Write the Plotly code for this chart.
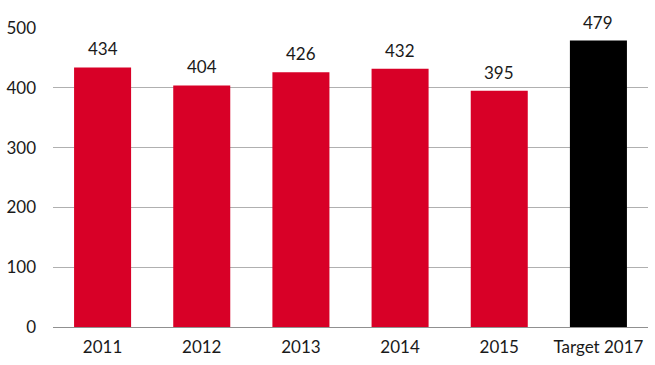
import plotly.graph_objects as go

categories = ["2011", "2012", "2013", "2014", "2015", "Target 2017"]
values = [434, 404, 426, 432, 395, 479]
colors = ["#D80027"] * 5 + ["#000000"]
yticks = [0, 100, 200, 300, 400, 500]

FONT = "Lato, DejaVu Sans, sans-serif"

fig = go.Figure(go.Bar(
    x=categories, y=values, marker=dict(color=colors, line=dict(width=0)),
    width=0.575,
))
for i, v in enumerate(values):
    fig.add_annotation(x=i, y=v, text=str(v), showarrow=False, yanchor="bottom",
                       yshift=6, font=dict(family=FONT, size=17, color="#1a1a1a"))

fig.update_layout(
    width=655, height=365,
    margin=dict(l=53, r=7, t=27.5, b=37.5),
    paper_bgcolor="white", plot_bgcolor="white",
    showlegend=False, bargap=0.425,
    font=dict(family=FONT, size=17, color="#1a1a1a"),
)
fig.update_yaxes(range=[0, 500], tickvals=yticks, showgrid=True, gridcolor="#b0b0b0",
                 gridwidth=1, zeroline=True, zerolinecolor="#909090", zerolinewidth=1,
                 ticks="", ticklabelstandoff=16, showline=False, fixedrange=True)
fig.update_xaxes(type="category", range=[-0.5, len(categories) - 0.5], showgrid=False,
                 ticks="", ticklabelstandoff=8, showline=False)

fig.write_html("out.html")
